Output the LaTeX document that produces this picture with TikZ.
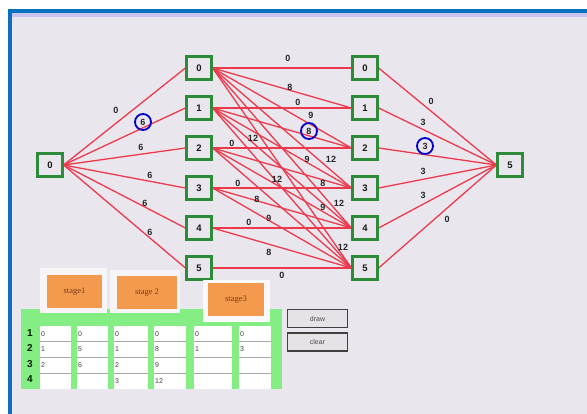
\documentclass[tikz,border=0pt]{standalone}
\usepackage{fontspec}
\setmainfont{Liberation Sans}
\newfontfamily\stagefont{Liberation Serif}
\definecolor{bgc}{HTML}{EAE6EE}
\definecolor{framec}{HTML}{0A70C0}
\definecolor{edgec}{HTML}{EC3A4C}
\definecolor{boxc}{HTML}{2E8B3A}
\definecolor{tabgreen}{HTML}{84EE84}
\definecolor{orangec}{HTML}{F39A4E}
\definecolor{stagetxt}{HTML}{7A3A1A}
\definecolor{btnc}{HTML}{E6E2E8}
\tikzset{
  vbox/.style={draw=boxc, line width=2.2pt, fill=bgc, minimum width=25pt, minimum height=23pt, inner sep=0pt, font=\bfseries\fontsize{9.5}{9.5}\selectfont, text=black!90},
  redline/.style={draw=edgec, line width=1.3pt},
  wlab/.style={font=\bfseries\fontsize{9}{9}\selectfont, text=black!85, inner sep=0pt},
  ringmark/.style={draw=blue!80!black, line width=1.8pt, circle, minimum size=16pt, inner sep=0pt},
  cell/.style={anchor=west, font=\fontsize{7}{7}\selectfont, text=black!75, inner sep=1pt},
  rowlab/.style={font=\bfseries\fontsize{10}{10}\selectfont, text=black!70!green!40!black, inner sep=0pt},
  stagebox/.style={fill=orangec, minimum width=55pt, minimum height=33pt, inner sep=0pt, font=\stagefont\fontsize{8.5}{8.5}\selectfont, text=stagetxt},
  btn/.style={draw=black!75, line width=1.2pt, fill=btnc, minimum width=60pt, minimum height=18pt, inner sep=0pt, font=\fontsize{7}{7}\selectfont, text=black!70}
}
\begin{document}
\begin{tikzpicture}[x=1pt,y=-1pt]
\useasboundingbox (0,0) rectangle (587,414);
\fill[white] (0,0) rectangle (587,414);
\fill[bgc] (8,9) rectangle (587,414);
\fill[blue!15!bgc] (12,13) rectangle (587,17);
\fill[framec] (8,9) rectangle (587,13);
\fill[framec] (8,9) rectangle (12,414);

% nodes
\node[vbox] (a0) at (50,165) {0};
\foreach \i in {0,...,5} {
  \node[vbox] (b\i) at (199,68+40*\i) {\i};
  \node[vbox] (c\i) at (365,68+40*\i) {\i};
}
\node[vbox] (d5) at (510,165) {5};

% edges
\foreach \i in {0,...,5} {
  \draw[redline] (a0.east) -- (b\i.west);
  \draw[redline] (c\i.east) -- (d5.west);
}
\foreach \i/\j in {0/0,0/1,0/2,0/3,0/4,0/5,1/1,1/2,1/3,1/4,1/5,2/2,2/3,2/4,2/5,3/3,3/4,3/5,4/4,4/5,5/5} {
  \draw[redline] (b\i.east) -- (c\j.west);
}
% redraw boxes on top
\node[vbox] at (a0) {0};
\foreach \i in {0,...,5} {
  \node[vbox] at (b\i) {\i};
  \node[vbox] at (c\i) {\i};
}
\node[vbox] at (d5) {5};

% stage 1 labels
\node[wlab] (l10) at (116,110) {0};
\node[wlab] (l11) at (143,122) {6};
\node[wlab] (l12) at (141,147) {6};
\node[wlab] (l13) at (150,175) {6};
\node[wlab] (l14) at (145,203) {6};
\node[wlab] (l15) at (150,232) {6};
\node[ringmark] (m1) at (l11) {};

% stage 3 labels
\node[wlab] (l30) at (431,101) {0};
\node[wlab] (l31) at (423,122) {3};
\node[wlab] (l32) at (425,146) {3};
\node[wlab] (l33) at (423,171) {3};
\node[wlab] (l34) at (423,195) {3};
\node[wlab] (l35) at (447,219) {0};
\node[ringmark] (m3) at (l32) {};

% stage 2 labels
\node[wlab] (m00) at (288,58) {0};
\node[wlab] (m01) at (290,87) {8};
\node[wlab] (m11) at (298,102) {0};
\node[wlab] (m02) at (311,115) {9};
\node[wlab] (m12) at (309,131) {8};
\node[ringmark] (m2) at (m12) {};
\node[wlab] (m22) at (232,143) {0};
\node[wlab] (m03) at (253,138) {12};
\node[wlab] (m13) at (307,159) {9};
\node[wlab] (m14) at (331,159) {12};
\node[wlab] (m25) at (277,179) {12};
\node[wlab] (m33) at (238,183) {0};
\node[wlab] (m23) at (323,183) {8};
\node[wlab] (m34) at (257,199) {8};
\node[wlab] (m24) at (339,203) {12};
\node[wlab] (m35) at (323,207) {9};
\node[wlab] (m44) at (249,222) {0};
\node[wlab] (m4x) at (269,218) {9};
\node[wlab] (m2x) at (343,247) {12};
\node[wlab] (m45) at (269,252) {8};
\node[wlab] (m55) at (282,275) {0};

% table
\fill[tabgreen] (21,309) rectangle (282,389);
\foreach \xa/\xb in {40/71,77/108,114/148,154/186,194/232,239/271} {
  \fill[white] (\xa,326) rectangle (\xb,389);
  \foreach \r in {341.5,357.5,373.5} {\draw[black!35, line width=0.8pt] (\xa,\r) -- (\xb,\r);}
}
\node[rowlab] (r1) at (30,333) {1};
\node[rowlab] (r2) at (30,348) {2};
\node[rowlab] (r3) at (30,364) {3};
\node[rowlab] (r4) at (30,379) {4};
\foreach \x/\a/\b/\c/\d [count=\k] in {40/0/1/2/,77/0/5/6/,114/0/1/2/3,154/0/8/9/12,194/0/1//,239/0/3//} {
  \node[cell] (t\k a) at (\x,334) {\a};
  \node[cell] (t\k b) at (\x,349.5) {\b};
  \node[cell] (t\k c) at (\x,365.5) {\c};
  \node[cell] (t\k d) at (\x,381) {\d};
}

% stage boxes
\fill[white!60!bgc] (40,268) rectangle (107,313);
\fill[white!60!bgc] (110,270) rectangle (180,313);
\fill[white!70!bgc] (203,280) rectangle (270,322);
\node[stagebox, minimum width=55pt] (s1) at (74.5,291.5) {stage1};
\node[stagebox, minimum width=60pt] (s2) at (147,293) {stage 2};
\node[stagebox, minimum width=56pt] (s3) at (236,299.5) {stage3};

% buttons
\node[btn] (bd) at (317.5,318.5) {draw};
\node[btn] (bc) at (317.5,342) {clear};
\end{tikzpicture}
\end{document}
